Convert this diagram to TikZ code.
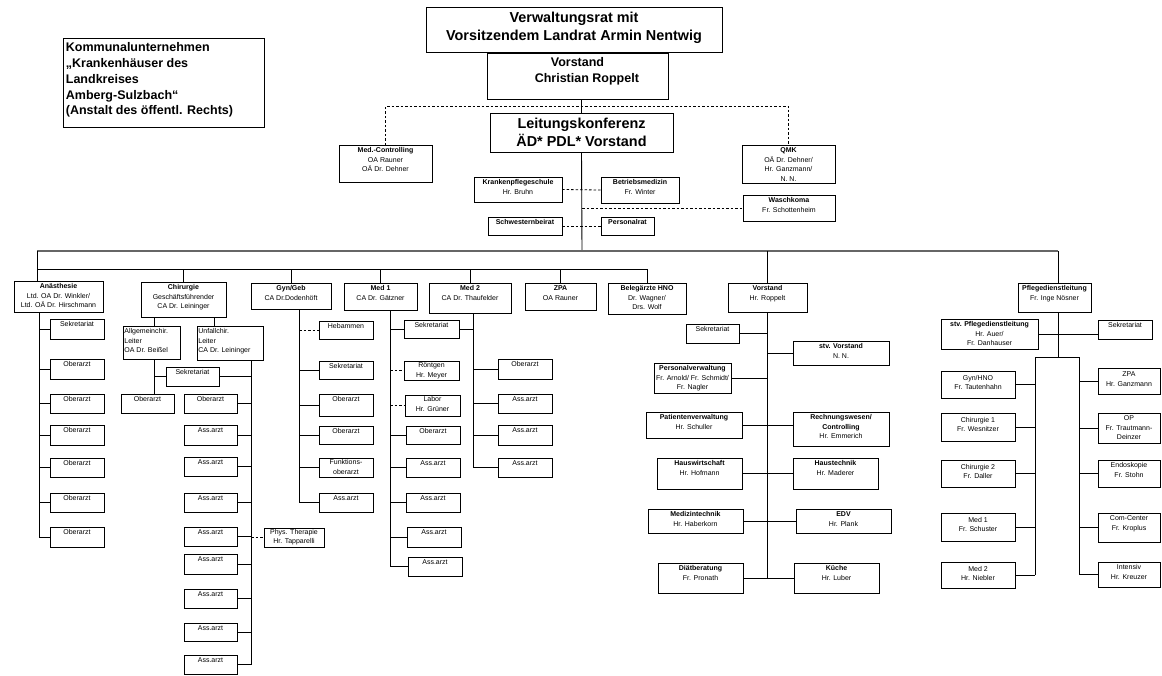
\documentclass[tikz,border=0pt]{standalone}
\usepackage{fontspec}
\setmainfont{Liberation Sans}
\newcommand\bx[7][]{%
  \node[box,anchor=north west,minimum width={#5-#3},minimum height={#6-#4}] (#2) at (#3,#4) {};
  \node[txt,anchor=north,#1] (#2-t) at ([yshift=-2.5pt]#2.north) {#7};}
\newcommand\bxl[7][]{%
  \node[box,anchor=north west,minimum width={#5-#3},minimum height={#6-#4}] (#2) at (#3,#4) {};
  \node[txt,align=left,anchor=north west,#1] (#2-t) at ([xshift=1.2pt,yshift=-2.5pt]#2.north west) {#7};}
\begin{document}
\begin{tikzpicture}[x=1pt,y=-1pt,
  box/.style={draw,line width=0.9pt,inner sep=0pt,outer sep=0pt},
  txt/.style={font=\fontsize{7}{9.5}\selectfont,align=center,inner sep=0pt},
  ln/.style={line width=0.9pt},
  dl/.style={line width=0.8pt,dash pattern=on 2.5pt off 2pt},
  bus/.style={line width=1.5pt,black!60}]
\useasboundingbox (0,0) rectangle (1162,675);

% ---------- top ----------
\bxl[font=\fontsize{12.5}{15.8}\selectfont\bfseries,xshift=1.5pt,yshift=-2pt]{kom}{63}{38}{264}{127}{Kommunalunternehmen\\„Krankenhäuser des\\Landkreises\\Amberg-Sulzbach“\\(Anstalt des öffentl. Rechts)}
\bx[font=\fontsize{14.4}{18}\selectfont\bfseries,yshift=-2.5pt]{vr}{426}{7}{722}{52}{Verwaltungsrat mit\\Vorsitzendem Landrat Armin Nentwig}
\bx[font=\fontsize{12.5}{16}\selectfont\bfseries,yshift=-2pt]{vs}{487}{53}{668}{99}{Vorstand\\\hspace*{1.5em}Christian Roppelt}
\bx[font=\fontsize{14.4}{18}\selectfont\bfseries,yshift=-2pt]{lk}{490}{113}{673}{152}{Leitungskonferenz\\ÄD* PDL* Vorstand}

\bx{mc}{339}{145}{432}{182}{\textbf{Med.-Controlling}\\OA Rauner\\OÄ Dr. Dehner}
\bx{qmk}{742}{145}{835}{183}{\textbf{QMK}\\OÄ Dr. Dehner/\\Hr. Ganzmann/\\N. N.}
\bx{kps}{474}{177}{562}{202}{\textbf{Krankenpflegeschule}\\Hr. Bruhn}
\bx{bm}{601}{177}{679}{203}{\textbf{Betriebsmedizin}\\Fr. Winter}
\bx{wk}{743}{195}{835}{221}{\textbf{Waschkoma}\\Fr. Schottenheim}
\bx{sb}{488}{217}{562}{235}{\textbf{Schwesternbeirat}}
\bx{pr}{601}{217}{654}{235}{\textbf{Personalrat}}

\coordinate (dsh) at (582,106);
\coordinate (busC) at (582,251);
\draw[ln] (vr.south -| lk.north) -- (vs.north -| lk.north);
\draw[ln] (vs.south -| lk.north) -- (lk.north);
\draw[dl] (mc.north) |- (dsh) -| (qmk.north);
\draw[ln] (lk.south) -- (busC);
\draw[dl] (kps.east) -- (bm.west);
\draw[dl] (busC |- wk.west) -- (wk.west);
\draw[dl] (sb.east) -- (pr.west);

% ---------- departments ----------
\bx{anae}{14}{281}{103}{312}{\textbf{Anästhesie}\\Ltd. OA Dr. Winkler/\\Ltd. OÄ Dr. Hirschmann}
\bx{chir}{141}{282}{226}{317}{\textbf{Chirurgie}\\Geschäftsführender\\CA Dr. Leininger}
\bx{gyn}{251}{283}{331}{309}{\textbf{Gyn/Geb}\\CA Dr.Dodenhöft}
\bx{med1}{344}{283}{417}{310}{\textbf{Med 1}\\CA Dr. Gätzner}
\bx{med2}{429}{283}{511}{313}{\textbf{Med 2}\\CA Dr. Thaufelder}
\bx{zpa}{525}{283}{596}{310}{\textbf{ZPA}\\OA Rauner}
\bx{beleg}{608}{283}{686}{314}{\textbf{Belegärzte HNO}\\Dr. Wagner/\\Drs. Wolf}
\bx{vor}{728}{283}{807}{312}{\textbf{Vorstand}\\Hr. Roppelt}
\bx{pdl}{1018}{283}{1091}{312}{\textbf{Pflegedienstleitung}\\Fr. Inge Nösner}

\coordinate (bL) at (37,251);
\coordinate (bR) at (1058,251);
\coordinate (dA) at (37,269);
\draw[bus] (bL) -- (bR);
\draw[ln] (bL) -- (dA |- anae.north);
\draw[ln] (dA) -- (beleg.north |- dA);
\foreach \n in {chir,gyn,med1,med2,zpa,beleg} \draw[ln] (\n.north |- dA) -- (\n.north);
\draw[ln] (vor.north |- bL) -- (vor.north);
\draw[ln] (bR) -- (pdl.north -| bR);

% ---------- Anaesthesie ----------
\coordinate (sA) at (39,0);
\bx{a1}{50}{319}{104}{339}{Sekretariat}
\bx{a2}{50}{359}{104}{379}{Oberarzt}
\bx{a3}{50}{394}{104}{413}{Oberarzt}
\bx{a4}{50}{425}{104}{445}{Oberarzt}
\bx{a5}{50}{458}{104}{477}{Oberarzt}
\bx{a6}{50}{493}{104}{512}{Oberarzt}
\bx{a7}{50}{527}{104}{547}{Oberarzt}
\draw[ln] (anae.south -| sA) -- (a7.west -| sA);
\foreach \n in {a1,a2,a3,a4,a5,a6,a7} \draw[ln] (\n.west) -- (\n.west -| sA);

% ---------- Chirurgie ----------
\coordinate (sC) at (154,0);
\coordinate (sU2) at (214,0);
\coordinate (sU) at (251,0);
\bxl{allg}{123}{326}{180}{359}{Allgemeinchir.\\Leiter\\OA Dr. Beißel}
\bxl{unf}{197}{326}{263}{360}{Unfallchir.\\Leiter\\CA Dr. Leininger}
\bx{csek}{166}{367}{219}{386}{Sekretariat}
\bx{cob}{121}{394}{174}{413}{Oberarzt}
\bx{u1}{184}{394}{237}{413}{Oberarzt}
\bx{u2}{184}{425}{237}{445}{Ass.arzt}
\bx{u3}{184}{457}{237}{476}{Ass.arzt}
\bx{u4}{184}{493}{237}{512}{Ass.arzt}
\bx{u5}{184}{527}{237}{546}{Ass.arzt}
\bx{u6}{184}{554}{237}{574}{Ass.arzt}
\bx{u7}{184}{589}{237}{608}{Ass.arzt}
\bx{u8}{184}{623}{237}{641}{Ass.arzt}
\bx{u9}{184}{655}{237}{674}{Ass.arzt}
\bx[yshift=1.5pt]{phys}{264}{528}{324}{547}{Phys. Therapie\\Hr. Tapparelli}
\draw[ln] (chir.south -| sC) -- (allg.north -| sC);
\draw[ln] (chir.south -| sU2) -- (unf.north -| sU2);
\draw[ln] (allg.south -| sC) -- (cob.north -| sC);
\draw[ln] (csek.west -| sC) -- (csek.west);
\draw[ln] (csek.east) -- (csek.east -| sU);
\draw[ln] (unf.south -| sU) -- (u9.east -| sU);
\foreach \n in {u1,u2,u3,u4,u5,u6,u7,u8,u9} \draw[ln] (\n.east) -- (\n.east -| sU);
\draw[dl] (phys.west -| sU) -- (phys.west);

% ---------- Gyn/Geb ----------
\coordinate (sG) at (299,0);
\bx{g1}{319}{321}{373}{339}{Hebammen}
\bx{g2}{319}{361}{373}{379}{Sekretariat}
\bx{g3}{319}{394}{373}{416}{Oberarzt}
\bx{g4}{319}{426}{373}{444}{Oberarzt}
\bx[yshift=1pt]{g5}{319}{458}{373}{477}{Funktions-\\oberarzt}
\bx{g6}{319}{493}{373}{512}{Ass.arzt}
\draw[ln] (gyn.south -| sG) -- (g6.west -| sG);
\draw[dl] (g1.west -| sG) -- (g1.west);
\foreach \n in {g2,g3,g4,g5,g6} \draw[ln] (\n.west) -- (\n.west -| sG);

% ---------- Med 1 / Med 2 ----------
\coordinate (sM1) at (390,0);
\coordinate (sM2) at (473,0);
\bx{m1}{404}{320}{459}{338}{Sekretariat}
\bx[yshift=1pt]{m2}{404}{361}{459}{380}{Röntgen\\Hr. Meyer}
\bx[yshift=1pt]{m3}{405}{395}{460}{416}{Labor\\Hr. Grüner}
\bx{m4}{406}{426}{460}{444}{Oberarzt}
\bx{m5}{406}{458}{460}{477}{Ass.arzt}
\bx{m6}{406}{493}{460}{512}{Ass.arzt}
\bx{m7}{407}{527}{461}{547}{Ass.arzt}
\bx{m8}{408}{557}{462}{576}{Ass.arzt}
\draw[ln] (med1.south -| sM1) -- (m8.west -| sM1);
\foreach \n in {m1,m4,m5,m6,m7,m8} \draw[ln] (\n.west) -- (\n.west -| sM1);
\draw[dl] (m2.west -| sM1) -- (m2.west);
\draw[dl] (m3.west -| sM1) -- (m3.west);
\bx{n1}{498}{359}{552}{379}{Oberarzt}
\bx{n2}{498}{394}{552}{413}{Ass.arzt}
\bx{n3}{498}{425}{552}{445}{Ass.arzt}
\bx{n4}{498}{458}{552}{477}{Ass.arzt}
\draw[ln] (med2.south -| sM2) -- (n4.west -| sM2);
\draw[ln] (m1.east) -- (m1.east -| sM2);
\foreach \n in {n1,n2,n3,n4} \draw[ln] (\n.west) -- (\n.west -| sM2);

% ---------- Vorstand ----------
\bx{v1}{686}{324}{739}{343}{Sekretariat}
\bx{v2}{793}{341}{889}{365}{\textbf{stv. Vorstand}\\N. N.}
\bx{v3}{654}{363}{731}{393}{\textbf{Personalverwaltung}\\Fr. Arnold/ Fr. Schmidt/\\Fr. Nagler}
\bx{v4}{646}{412}{742}{438}{\textbf{Patientenverwaltung}\\Hr. Schuller}
\bx{v5}{793}{412}{889}{446}{\textbf{Rechnungswesen/}\\\textbf{Controlling}\\Hr. Emmerich}
\bx{v6}{657}{458}{742}{489}{\textbf{Hauswirtschaft}\\Hr. Hofmann}
\bx{v7}{793}{458}{878}{489}{\textbf{Haustechnik}\\Hr. Maderer}
\bx{v8}{648}{509}{743}{533}{\textbf{Medizintechnik}\\Hr. Haberkorn}
\bx{v9}{796}{509}{891}{533}{\textbf{EDV}\\Hr. Plank}
\bx{v10}{658}{563}{743}{593}{\textbf{Diätberatung}\\Fr. Pronath}
\bx{v11}{794}{563}{879}{593}{\textbf{Küche}\\Hr. Luber}
\draw[ln] (vor.south) -- (vor.south |- v10.east);
\draw[ln] (v1.east) -- (v1.east -| vor.south);
\draw[ln] (v2.west) -- (v2.west -| vor.south);
\draw[ln] (v3.east) -- (v3.east -| vor.south);
\draw[ln] (v4.east) -- (v4.east -| v5.west);
\draw[ln] (v6.east) -- (v6.east -| v7.west);
\draw[ln] (v8.east) -- (v8.east -| v9.west);
\draw[ln] (v10.east) -- (v10.east -| v11.west);

% ---------- Pflegedienstleitung ----------
\coordinate (fL) at (1035,357);
\coordinate (fR) at (1079,357);
\bx{pstv}{941}{319}{1038}{349}{\textbf{stv. Pflegedienstleitung}\\Hr. Auer/\\Fr. Danhauser}
\bx{psek}{1098}{320}{1152}{339}{Sekretariat}
\bx[yshift=-1.5pt]{l1}{941}{371}{1015}{398}{Gyn/HNO\\Fr. Tautenhahn}
\bx[yshift=-1.5pt]{l2}{941}{413}{1015}{441}{Chirurgie 1\\Fr. Wesnitzer}
\bx[yshift=-1.5pt]{l3}{941}{460}{1015}{487}{Chirurgie 2\\Fr. Daller}
\bx[yshift=-1.5pt]{l4}{941}{513}{1015}{541}{Med 1\\Fr. Schuster}
\bx[yshift=-1.5pt]{l5}{941}{562}{1015}{588}{Med 2\\Hr. Niebler}
\bx[yshift=-1pt]{r1}{1098}{368}{1160}{394}{ZPA\\Hr. Ganzmann}
\bx{r2}{1098}{413}{1160}{443}{OP\\Fr. Trautmann-\\Deinzer}
\bx{r3}{1098}{460}{1160}{487}{Endoskopie\\Fr. Stohn}
\bx{r4}{1098}{513}{1160}{542}{Com-Center\\Fr. Kroplus}
\bx{r5}{1098}{562}{1160}{587}{Intensiv\\Hr. Kreuzer}
\draw[ln] (pdl.south -| bR) -- (bR |- fL);
\draw[ln] (pstv.east) -- (pstv.east -| psek.west);
\draw[ln] (l5.east -| fL) -- (fL) -- (fR) -- (r5.west -| fR);
\foreach \n in {l1,l2,l3,l4,l5} \draw[ln] (\n.east) -- (\n.east -| fL);
\foreach \n in {r1,r2,r3,r4,r5} \draw[ln] (\n.west) -- (\n.west -| fR);
\end{tikzpicture}
\end{document}
